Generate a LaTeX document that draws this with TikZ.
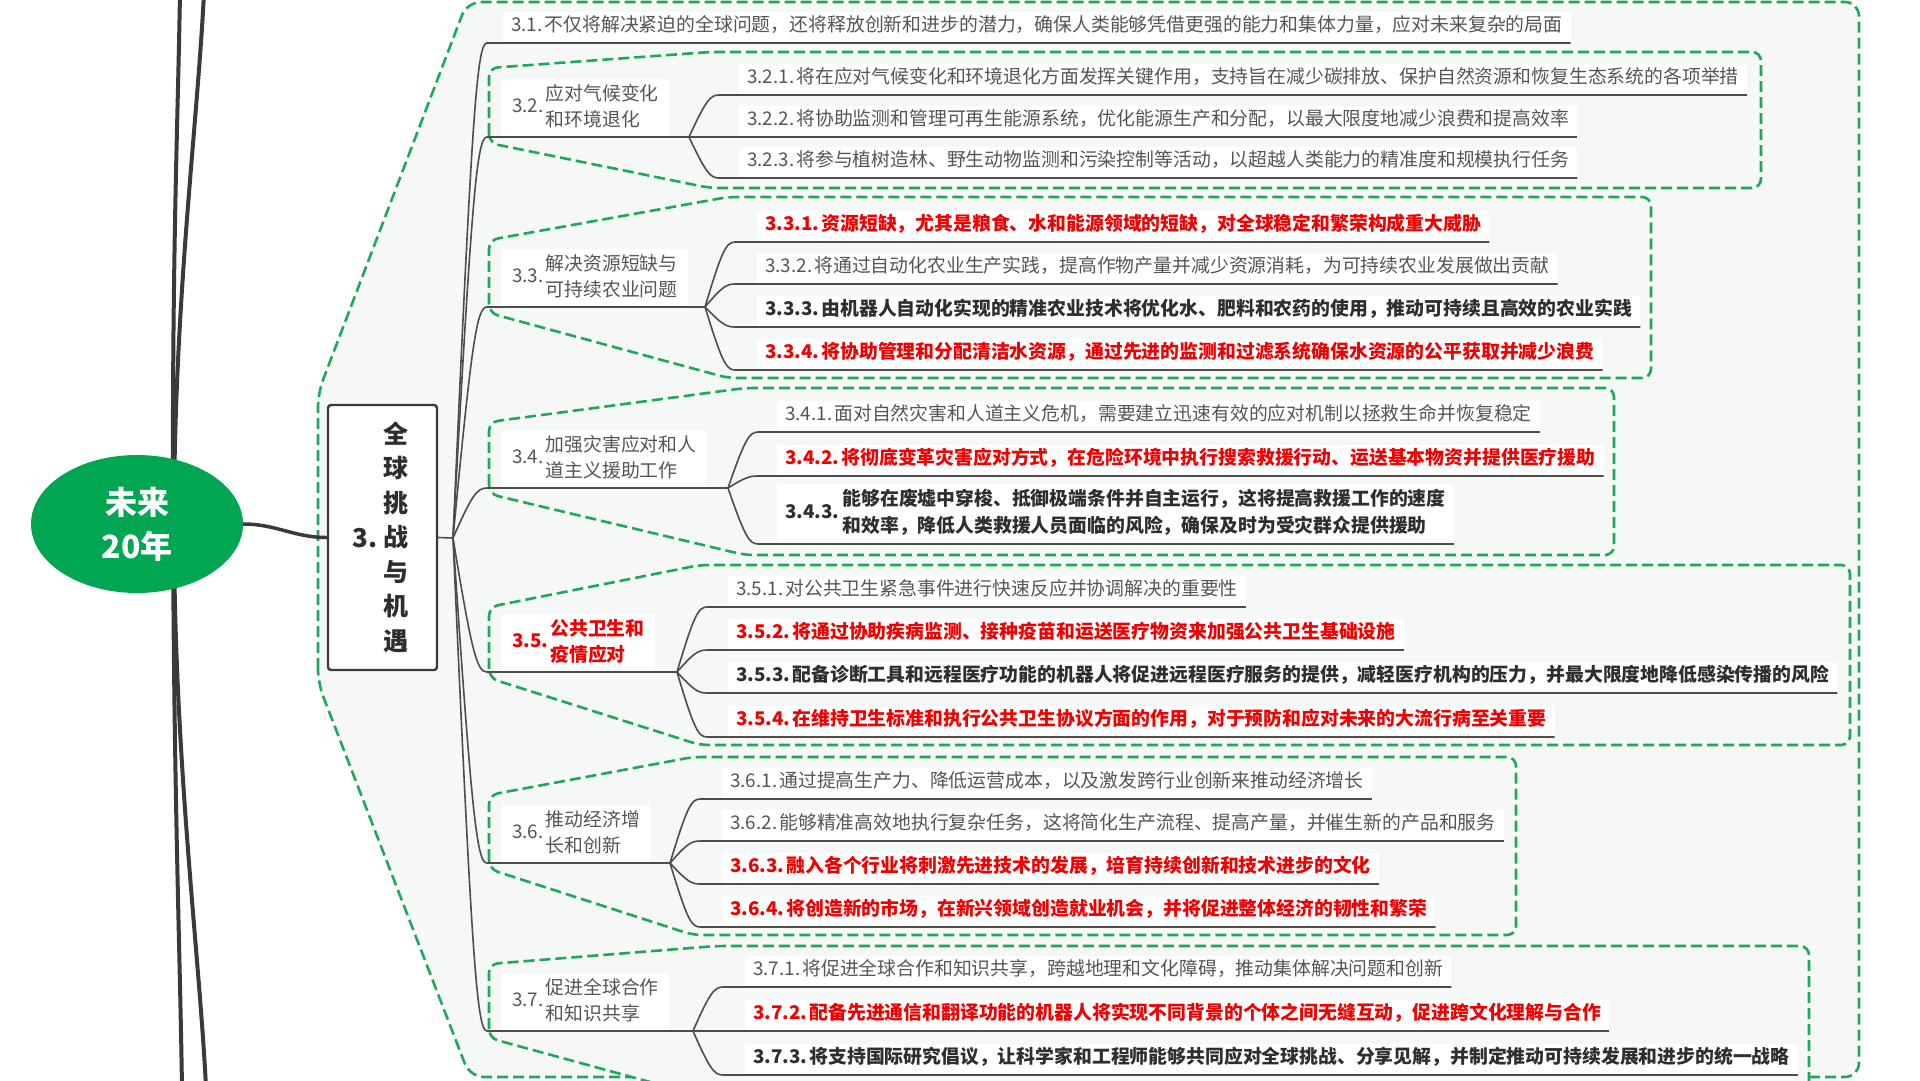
\documentclass[tikz,border=0pt]{standalone}
\usepackage{fontspec}
\setmainfont{Noto Sans CJK SC}
\usetikzlibrary{shapes.geometric,calc}
\definecolor{rootgreen}{HTML}{00A651}
\definecolor{dashgreen}{HTML}{1FA85C}
\definecolor{tgray}{HTML}{555555}
\definecolor{tdark}{HTML}{2E2E2E}
\definecolor{tred}{HTML}{F00000}
\definecolor{lineg}{HTML}{4D4D4D}
\definecolor{trunkc}{HTML}{3A3A3A}
\definecolor{bgfill}{HTML}{F5F8F7}
\newcommand\fsN{\fontsize{18.85}{26}\selectfont}
\pgfdeclarelayer{bg}
\pgfsetlayers{bg,main}
\tikzset{
 ul/.style={draw=lineg, line width=1.6pt},
 conn/.style={to path={let \p1=(\tikztostart),\p2=(\tikztotarget) in .. controls ({\x1+0.55*(\x2-\x1)},{\y1+0.85*(\y2-\y1)}) and ({\x1+0.7*(\x2-\x1)},{\y2}) .. (\p2)}},
 bnd/.style={draw=dashgreen, line width=2.6pt, dash pattern=on 11pt off 5pt, fill=bgfill, rounded corners=9pt},
 tnode/.style={anchor=south west, fill=white, inner xsep=8pt, font=\fsN},
 cn/.style={tnode, inner ysep=6pt, text height=14pt, text depth=5pt},
 nrm/.style={text=tgray},
 bdk/.style={text=tdark, font=\fsN\bfseries},
 brd/.style={text=tred, font=\fsN\bfseries},
 pn/.style={tnode, inner xsep=10pt, inner ysep=3pt},
 trunk/.style={draw=trunkc, line width=4pt},
}
\begin{document}
\begin{tikzpicture}[x=1pt,y=-1pt]
\useasboundingbox (0,0) rectangle (1920,1080);

% boundaries
\draw[bnd, rounded corners=14pt] (318,683) -- (318,393) -- (467,2) -- (1859,2) -- (1859,1077) -- (470,1077) -- cycle;
\draw[bnd] (489,143) -- (489,68) -- (710,52) -- (1761,52) -- (1761,188) -- (710,188) -- cycle;
\draw[bnd] (489,313) -- (489,240) -- (728,197) -- (1651,197) -- (1651,378) -- (728,378) -- cycle;
\draw[bnd] (489,494) -- (489,422) -- (745,388) -- (1614,388) -- (1614,555) -- (745,555) -- cycle;
\draw[bnd] (489,678) -- (489,607) -- (700,565) -- (1850,565) -- (1850,745) -- (700,745) -- cycle;
\draw[bnd] (489,869) -- (489,795) -- (693,757) -- (1516,757) -- (1516,935) -- (693,935) -- cycle;
\draw[bnd] (489,1038) -- (489,964) -- (716,946) -- (1809,946) -- (1809,1100) -- (716,1100) -- cycle;

% root and central topic
\node[ellipse, fill=rootgreen, minimum width=212pt, minimum height=138pt, inner sep=0pt, text=white, align=center, font=\fontsize{32}{44}\selectfont\bfseries] (root) at (137,524) {未来\\20年};
\node[draw=trunkc, line width=2.4pt, fill=white, rounded corners=3pt, minimum width=109pt, minimum height=265pt, inner sep=0pt] (b3) at (382.5,537.5) {};
\node[font=\fontsize{26}{30}\selectfont\bfseries, text=tdark, inner sep=0pt] (b3n) at (365,538) {3.};
\node[font=\fontsize{25}{34.5}\selectfont\bfseries, text=tdark, inner sep=0pt] (b3t) at (396,540) {\begin{tabular}{@{}c@{}}全\\球\\挑\\战\\与\\机\\遇\end{tabular}};

\coordinate (ta) at (180,-8);
\coordinate (tb) at (204,-8);
\coordinate (ba) at (182,1088);
\coordinate (bb) at (206,1088);
\begin{pgfonlayer}{bg}
\fill[white] (0,0) rectangle (1920,1080);
\draw[trunk] ($(root.center)+(36,0)$) .. controls (172,250) and (178,120) .. (ta);
\draw[trunk] ($(root.center)+(37,0)$) .. controls (174,300) and (198,120) .. (tb);
\draw[trunk] ($(root.center)+(36,0)$) .. controls (174,800) and (180,950) .. (ba);
\draw[trunk] ($(root.center)+(37,0)$) .. controls (174,760) and (200,960) .. (bb);
\end{pgfonlayer}
\draw[draw=trunkc, line width=3.5pt] (root.east) to[out=0,in=180] (b3.west);

% coordinates
\coordinate (F0) at (453,538);
\coordinate (L) at (487,0);
\coordinate (f32) at (689,137); \coordinate (c32) at (719,0);
\coordinate (f33) at (705,307); \coordinate (c33) at (735,0);
\coordinate (f34) at (728,488); \coordinate (c34) at (758,0);
\coordinate (f35) at (677,672); \coordinate (c35) at (707,0);
\coordinate (f36) at (670,863); \coordinate (c36) at (700,0);
\coordinate (f37) at (693,1031); \coordinate (c37) at (723,0);

% 3.1
\node[cn,nrm] (n31) at (503,43) {3.1.\hspace{2pt}不仅将解决紧迫的全球问题，还将释放创新和进步的潜力，确保人类能够凭借更强的能力和集体力量，应对未来复杂的局面};

% 3.2
\node[pn,nrm] (p32) at (502,137) {3.2.\hspace{2pt}\begin{tabular}[c]{@{}l@{}}应对气候变化\\和环境退化\end{tabular}};
\node[cn,nrm] (n321) at (739,95) {3.2.1.\hspace{2pt}将在应对气候变化和环境退化方面发挥关键作用，支持旨在减少碳排放、保护自然资源和恢复生态系统的各项举措};
\node[cn,nrm] (n322) at (739,137) {3.2.2.\hspace{2pt}将协助监测和管理可再生能源系统，优化能源生产和分配，以最大限度地减少浪费和提高效率};
\node[cn,nrm] (n323) at (739,178) {3.2.3.\hspace{2pt}将参与植树造林、野生动物监测和污染控制等活动，以超越人类能力的精准度和规模执行任务};

% 3.3
\node[pn,nrm] (p33) at (502,307) {3.3.\hspace{2pt}\begin{tabular}[c]{@{}l@{}}解决资源短缺与\\可持续农业问题\end{tabular}};
\node[cn,brd] (n331) at (757,242) {3.3.1.\hspace{2pt}资源短缺，尤其是粮食、水和能源领域的短缺，对全球稳定和繁荣构成重大威胁};
\node[cn,nrm] (n332) at (757,284) {3.3.2.\hspace{2pt}将通过自动化农业生产实践，提高作物产量并减少资源消耗，为可持续农业发展做出贡献};
\node[cn,bdk] (n333) at (757,327) {3.3.3.\hspace{2pt}由机器人自动化实现的精准农业技术将优化水、肥料和农药的使用，推动可持续且高效的农业实践};
\node[cn,brd] (n334) at (757,370) {3.3.4.\hspace{2pt}将协助管理和分配清洁水资源，通过先进的监测和过滤系统确保水资源的公平获取并减少浪费};

% 3.4
\node[pn,nrm] (p34) at (502,488) {3.4.\hspace{2pt}\begin{tabular}[c]{@{}l@{}}加强灾害应对和人\\道主义援助工作\end{tabular}};
\node[cn,nrm] (n341) at (777,432) {3.4.1.\hspace{2pt}面对自然灾害和人道主义危机，需要建立迅速有效的应对机制以拯救生命并恢复稳定};
\node[cn,brd] (n342) at (777,476) {3.4.2.\hspace{2pt}将彻底变革灾害应对方式，在危险环境中执行搜索救援行动、运送基本物资并提供医疗援助};
\node[tnode, inner ysep=3pt, text=tdark, font=\fontsize{18.85}{27}\selectfont\bfseries] (n343) at (777,544) {3.4.3.\hspace{3pt}\begin{tabular}[c]{@{}l@{}}能够在废墟中穿梭、抵御极端条件并自主运行，这将提高救援工作的速度\\和效率，降低人类救援人员面临的风险，确保及时为受灾群众提供援助\end{tabular}};

% 3.5
\node[pn,brd] (p35) at (502,672) {3.5.\hspace{2pt}\begin{tabular}[c]{@{}l@{}}公共卫生和\\疫情应对\end{tabular}};
\node[cn,nrm] (n351) at (728,607) {3.5.1.\hspace{2pt}对公共卫生紧急事件进行快速反应并协调解决的重要性};
\node[cn,brd] (n352) at (728,650) {3.5.2.\hspace{2pt}将通过协助疾病监测、接种疫苗和运送医疗物资来加强公共卫生基础设施};
\node[cn,bdk] (n353) at (728,693) {3.5.3.\hspace{2pt}配备诊断工具和远程医疗功能的机器人将促进远程医疗服务的提供，减轻医疗机构的压力，并最大限度地降低感染传播的风险};
\node[cn,brd] (n354) at (728,737) {3.5.4.\hspace{2pt}在维持卫生标准和执行公共卫生协议方面的作用，对于预防和应对未来的大流行病至关重要};

% 3.6
\node[pn,nrm] (p36) at (502,863) {3.6.\hspace{2pt}\begin{tabular}[c]{@{}l@{}}推动经济增\\长和创新\end{tabular}};
\node[cn,nrm] (n361) at (722,799) {3.6.1.\hspace{2pt}通过提高生产力、降低运营成本，以及激发跨行业创新来推动经济增长};
\node[cn,nrm] (n362) at (722,841) {3.6.2.\hspace{2pt}能够精准高效地执行复杂任务，这将简化生产流程、提高产量，并催生新的产品和服务};
\node[cn,brd] (n363) at (722,884) {3.6.3.\hspace{2pt}融入各个行业将刺激先进技术的发展，培育持续创新和技术进步的文化};
\node[cn,brd] (n364) at (722,927) {3.6.4.\hspace{2pt}将创造新的市场，在新兴领域创造就业机会，并将促进整体经济的韧性和繁荣};

% 3.7
\node[pn,nrm] (p37) at (502,1031) {3.7.\hspace{2pt}\begin{tabular}[c]{@{}l@{}}促进全球合作\\和知识共享\end{tabular}};
\node[cn,nrm] (n371) at (745,987) {3.7.1.\hspace{2pt}将促进全球合作和知识共享，跨越地理和文化障碍，推动集体解决问题和创新};
\node[cn,brd] (n372) at (745,1031) {3.7.2.\hspace{2pt}配备先进通信和翻译功能的机器人将实现不同背景的个体之间无缝互动，促进跨文化理解与合作};
\node[cn,bdk] (n373) at (745,1075) {3.7.3.\hspace{2pt}将支持国际研究倡议，让科学家和工程师能够共同应对全球挑战、分享见解，并制定推动可持续发展和进步的统一战略};

% connectors
\draw[ul] (b3.east) -- (F0);
\draw[ul] (F0) to[conn] (n31.south west -| L) -- (n31.south east);
\foreach \s in {32,33,34,35,36,37}{
  \draw[ul] (F0) to[conn] (f\s -| L) -- (f\s);
}
\foreach \s/\k in {32/1,32/2,32/3,33/1,33/2,33/3,33/4,34/1,34/2,34/3,35/1,35/2,35/3,35/4,36/1,36/2,36/3,36/4,37/1,37/2,37/3}{
  \draw[ul] (f\s) to[conn] (n\s\k.south west -| c\s) -- (n\s\k.south east);
}
\end{tikzpicture}
\end{document}
